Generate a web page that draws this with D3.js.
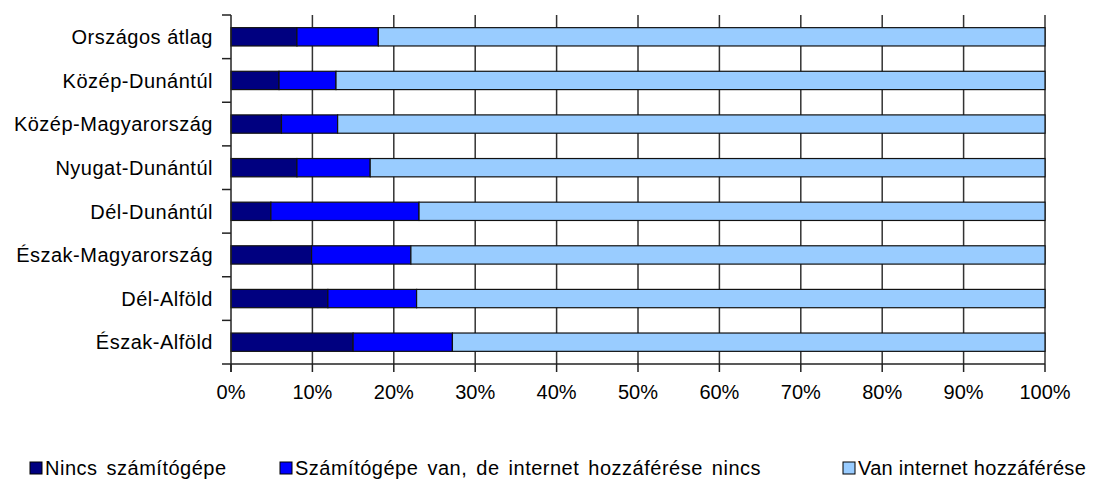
<!DOCTYPE html>
<html>
	<head>
		<meta charset="utf-8">
		<style>
		body {
			margin: 0;
			background: #fff;
			font-family: "Liberation Sans", Arial, sans-serif;
		}
		svg { display: block; overflow: hidden; }
		</style>
		<script src="https://d3js.org/d3.v7.min.js"></script>
	</head>
	<body>
		<svg id="chart" width="1095" height="488"></svg>
		<script>
		// regions, top to bottom
		const regions = ["Országos átlag", "Közép-Dunántúl", "Közép-Magyarország", "Nyugat-Dunántúl",
			"Dél-Dunántúl", "Észak-Magyarország", "Dél-Alföld", "Észak-Alföld"];
		// share of households (%)
		const noComputer = [8.1, 5.9, 6.2, 8.1, 4.9, 9.9, 11.9, 15.0];
		const computerNoNet = [10.0, 7.0, 6.9, 9.0, 18.2, 12.2, 10.9, 12.2];
		const hasNet = [81.9, 87.1, 86.9, 82.9, 76.9, 77.9, 77.2, 72.8];
		const seriesNames = ["Nincs számítógépe", "Számítógépe van, de internet hozzáférése nincs", "Van internet hozzáférése"];
		const seriesColors = ["#000080", "#0000ff", "#99ccff"];
		const xTicks = [0, 10, 20, 30, 40, 50, 60, 70, 80, 90, 100];

		const svg = d3.select("#chart");
		const mLeft = 231, mRight = 1045, mTop = 15, mBottom = 364;

		const x = d3.scaleLinear().domain([0, 100]).range([mLeft, mRight]);
		const y = d3.scaleBand().domain(regions).range([mTop, mBottom]).paddingInner(0.58).paddingOuter(0.29);

		// vertical gridlines
		svg.append("g").selectAll("line").data(xTicks.slice(1)).join("line")
			.attr("x1", d => x(d)).attr("x2", d => x(d))
			.attr("y1", mTop).attr("y2", mBottom)
			.attr("stroke", "#333").attr("stroke-width", 1.5);

		// stacked bars
		const table = regions.map((r, i) => ({region: r, vals: [noComputer[i], computerNoNet[i], hasNet[i]]}));
		const stack = d3.stack().keys([0, 1, 2]).value((d, k) => d.vals[k]);
		const layers = stack(table);
		svg.append("g").selectAll("g").data(layers).join("g")
			.attr("fill", (d, i) => seriesColors[i])
			.selectAll("rect").data(d => d).join("rect")
			.attr("x", d => x(d[0]))
			.attr("width", d => x(Math.min(d[1], 100)) - x(d[0]))
			.attr("y", d => y(d.data.region))
			.attr("height", y.bandwidth())
			.attr("stroke", "#111").attr("stroke-width", 1.2);

		// y axis
		const yAxis = svg.append("g");
		yAxis.append("line").attr("x1", mLeft).attr("x2", mLeft).attr("y1", mTop).attr("y2", mBottom + 8)
			.attr("stroke", "#222").attr("stroke-width", 1.5);
		yAxis.selectAll(".yt").data(d3.range(regions.length + 1)).join("line")
			.attr("x1", mLeft - 9).attr("x2", mLeft)
			.attr("y1", i => mTop + i * y.step())
			.attr("y2", i => mTop + i * y.step())
			.attr("stroke", "#222").attr("stroke-width", 1.5);
		yAxis.selectAll("text").data(regions).join("text")
			.attr("x", mLeft - 18)
			.attr("y", d => y(d) + y.bandwidth() / 2)
			.attr("dy", "0.36em")
			.attr("text-anchor", "end")
			.attr("font-size", 20)
			.attr("letter-spacing", 0.5)
			.attr("fill", "#000")
			.text(d => d);

		// x axis
		const xAxis = svg.append("g");
		xAxis.append("line").attr("x1", mLeft).attr("x2", mRight).attr("y1", mBottom).attr("y2", mBottom)
			.attr("stroke", "#222").attr("stroke-width", 1.5);
		xAxis.selectAll(".xt").data(xTicks).join("line")
			.attr("x1", d => x(d)).attr("x2", d => x(d))
			.attr("y1", mBottom).attr("y2", mBottom + 8)
			.attr("stroke", "#222").attr("stroke-width", 1.5);
		xAxis.selectAll("text").data(xTicks).join("text")
			.attr("x", d => x(d))
			.attr("y", mBottom + 28)
			.attr("dy", "0.36em")
			.attr("text-anchor", "middle")
			.attr("font-size", 20)
			.attr("fill", "#000")
			.text(d => d + "%");

		// legend
		const legendX = [30, 280, 843];
		const legend = svg.append("g").selectAll("g").data(seriesNames).join("g")
			.attr("transform", (d, i) => "translate(" + legendX[i] + ",468)");
		legend.append("rect")
			.attr("x", 0).attr("y", -6).attr("width", 12).attr("height", 12)
			.attr("fill", (d, i) => seriesColors[i])
			.attr("stroke", "#000").attr("stroke-width", 1);
		legend.append("text")
			.attr("x", 15).attr("dy", "0.36em")
			.attr("font-size", 20)
			.attr("letter-spacing", (d, i) => i == 2 ? 0.3 : 0.5)
			.attr("word-spacing", (d, i) => i == 2 ? 0 : 3)
			.attr("fill", "#000")
			.text(d => d);
		</script>
	</body>
</html>
